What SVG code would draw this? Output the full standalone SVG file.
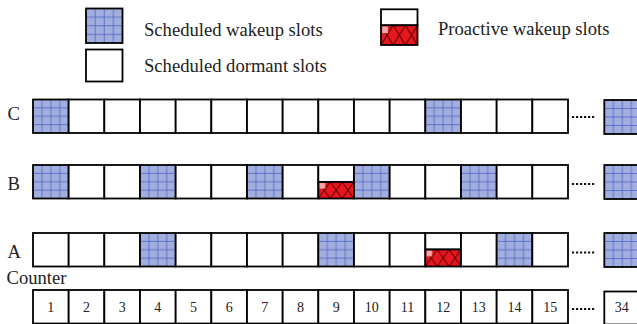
<svg xmlns="http://www.w3.org/2000/svg" width="637" height="324" viewBox="0 0 637 324">
<style>
text{font-family:"Liberation Serif","Times New Roman",serif;fill:#222}
.lbl{font-size:18.6px}
.num{font-size:14px;text-anchor:middle}
.s{fill:#fff;stroke:#000;stroke-width:1.8}
.w{fill:url(#wake);stroke:#000;stroke-width:1.8}
.r{fill:url(#red);stroke:#000;stroke-width:1.8}
.dots{stroke:#111;stroke-width:2;stroke-dasharray:2.2 1.8;fill:none}
</style>
<defs>
<pattern id="wake" patternUnits="objectBoundingBox" width="1" height="1" patternContentUnits="objectBoundingBox">
<rect width="1" height="1" fill="#a2aedd"/>
<path d="M0.25 0V1M0.5 0V1M0.75 0V1M0 0.25H1M0 0.5H1M0 0.75H1" stroke="#4d63c4" stroke-width="0.022" fill="none"/>
</pattern>
<pattern id="red" patternUnits="objectBoundingBox" width="1" height="1" patternContentUnits="objectBoundingBox">
<rect width="1" height="1" fill="#e8161e"/>
<path d="M0 0L0.333 1M0.333 0L0 1M0.333 0L0.667 1M0.667 0L0.333 1M0.667 0L1 1M1 0L0.667 1" stroke="#4a0000" stroke-width="0.03" fill="none"/>
<rect x="0.03" y="0.05" width="0.16" height="0.35" fill="#f6a5a8"/>
</pattern>
</defs>

<g id="legend-wakeup">
<rect class="w" x="86" y="8.5" width="36.5" height="34.5"/>
<text class="lbl" x="144" y="35.5">Scheduled wakeup slots</text>
</g>
<g id="legend-dormant">
<rect class="s" x="86" y="49.5" width="36.5" height="32"/>
<text class="lbl" x="144" y="72">Scheduled dormant slots</text>
</g>
<g id="legend-proactive">
<rect class="s" x="381" y="9.3" width="36.5" height="16"/>
<rect class="r" x="381" y="25.3" width="36.5" height="19.7"/>
<text class="lbl" x="438" y="34.5">Proactive wakeup slots</text>
</g>

<g id="row-C">
<text class="lbl" x="7.5" y="119.5">C</text>
<rect class="w" x="33" y="99.5" width="35.67" height="33.5"/>
<rect class="s" x="68.67" y="99.5" width="35.67" height="33.5"/>
<rect class="s" x="104.33" y="99.5" width="35.67" height="33.5"/>
<rect class="s" x="140" y="99.5" width="35.67" height="33.5"/>
<rect class="s" x="175.67" y="99.5" width="35.67" height="33.5"/>
<rect class="s" x="211.33" y="99.5" width="35.67" height="33.5"/>
<rect class="s" x="247" y="99.5" width="35.67" height="33.5"/>
<rect class="s" x="282.67" y="99.5" width="35.67" height="33.5"/>
<rect class="s" x="318.33" y="99.5" width="35.67" height="33.5"/>
<rect class="s" x="354" y="99.5" width="35.67" height="33.5"/>
<rect class="s" x="389.67" y="99.5" width="35.67" height="33.5"/>
<rect class="w" x="425.33" y="99.5" width="35.67" height="33.5"/>
<rect class="s" x="461" y="99.5" width="35.67" height="33.5"/>
<rect class="s" x="496.67" y="99.5" width="35.67" height="33.5"/>
<rect class="s" x="532.33" y="99.5" width="35.67" height="33.5"/>
<rect class="w" x="604.3" y="100" width="36" height="34"/>
</g>

<g id="row-B">
<text class="lbl" x="7.5" y="190">B</text>
<rect class="w" x="33" y="165" width="35.67" height="33.5"/>
<rect class="s" x="68.67" y="165" width="35.67" height="33.5"/>
<rect class="s" x="104.33" y="165" width="35.67" height="33.5"/>
<rect class="w" x="140" y="165" width="35.67" height="33.5"/>
<rect class="s" x="175.67" y="165" width="35.67" height="33.5"/>
<rect class="s" x="211.33" y="165" width="35.67" height="33.5"/>
<rect class="w" x="247" y="165" width="35.67" height="33.5"/>
<rect class="s" x="282.67" y="165" width="35.67" height="33.5"/>
<rect class="s" x="318.33" y="165" width="35.67" height="17"/>
<rect class="r" x="318.33" y="182" width="35.67" height="16.5"/>
<rect class="w" x="354" y="165" width="35.67" height="33.5"/>
<rect class="s" x="389.67" y="165" width="35.67" height="33.5"/>
<rect class="s" x="425.33" y="165" width="35.67" height="33.5"/>
<rect class="w" x="461" y="165" width="35.67" height="33.5"/>
<rect class="s" x="496.67" y="165" width="35.67" height="33.5"/>
<rect class="s" x="532.33" y="165" width="35.67" height="33.5"/>
<rect class="w" x="604.3" y="165" width="36" height="34"/>
</g>

<g id="row-A">
<text class="lbl" x="7.5" y="257.5">A</text>
<rect class="s" x="33" y="233" width="35.67" height="33.5"/>
<rect class="s" x="68.67" y="233" width="35.67" height="33.5"/>
<rect class="s" x="104.33" y="233" width="35.67" height="33.5"/>
<rect class="w" x="140" y="233" width="35.67" height="33.5"/>
<rect class="s" x="175.67" y="233" width="35.67" height="33.5"/>
<rect class="s" x="211.33" y="233" width="35.67" height="33.5"/>
<rect class="s" x="247" y="233" width="35.67" height="33.5"/>
<rect class="s" x="282.67" y="233" width="35.67" height="33.5"/>
<rect class="w" x="318.33" y="233" width="35.67" height="33.5"/>
<rect class="s" x="354" y="233" width="35.67" height="33.5"/>
<rect class="s" x="389.67" y="233" width="35.67" height="33.5"/>
<rect class="s" x="425.33" y="233" width="35.67" height="16.5"/>
<rect class="r" x="425.33" y="249.5" width="35.67" height="17"/>
<rect class="s" x="461" y="233" width="35.67" height="33.5"/>
<rect class="w" x="496.67" y="233" width="35.67" height="33.5"/>
<rect class="s" x="532.33" y="233" width="35.67" height="33.5"/>
<rect class="w" x="604.3" y="233" width="36" height="34"/>
</g>

<g id="row-counter">
<text class="lbl" x="6.5" y="283.5">Counter</text>
<rect class="s" x="33" y="290" width="35.67" height="33.5"/>
<rect class="s" x="68.67" y="290" width="35.67" height="33.5"/>
<rect class="s" x="104.33" y="290" width="35.67" height="33.5"/>
<rect class="s" x="140" y="290" width="35.67" height="33.5"/>
<rect class="s" x="175.67" y="290" width="35.67" height="33.5"/>
<rect class="s" x="211.33" y="290" width="35.67" height="33.5"/>
<rect class="s" x="247" y="290" width="35.67" height="33.5"/>
<rect class="s" x="282.67" y="290" width="35.67" height="33.5"/>
<rect class="s" x="318.33" y="290" width="35.67" height="33.5"/>
<rect class="s" x="354" y="290" width="35.67" height="33.5"/>
<rect class="s" x="389.67" y="290" width="35.67" height="33.5"/>
<rect class="s" x="425.33" y="290" width="35.67" height="33.5"/>
<rect class="s" x="461" y="290" width="35.67" height="33.5"/>
<rect class="s" x="496.67" y="290" width="35.67" height="33.5"/>
<rect class="s" x="532.33" y="290" width="35.67" height="33.5"/>
<rect class="s" x="604.3" y="291.5" width="36" height="33"/>
<text class="num" x="50.8" y="311.5">1</text>
<text class="num" x="86.5" y="311.5">2</text>
<text class="num" x="122.2" y="311.5">3</text>
<text class="num" x="157.8" y="311.5">4</text>
<text class="num" x="193.5" y="311.5">5</text>
<text class="num" x="229.2" y="311.5">6</text>
<text class="num" x="264.8" y="311.5">7</text>
<text class="num" x="300.5" y="311.5">8</text>
<text class="num" x="336.2" y="311.5">9</text>
<text class="num" x="371.8" y="311.5">10</text>
<text class="num" x="407.5" y="311.5">11</text>
<text class="num" x="443.2" y="311.5">12</text>
<text class="num" x="478.8" y="311.5">13</text>
<text class="num" x="514.5" y="311.5">14</text>
<text class="num" x="550.2" y="311.5">15</text>
<text class="num" x="621.7" y="312">34</text>
</g>

<g id="connectors">
<path class="dots" d="M572 117H595"/>
<path class="dots" d="M572 184H595"/>
<path class="dots" d="M572 252.5H595"/>
<path class="dots" d="M572 309H595"/>
</g>
</svg>
